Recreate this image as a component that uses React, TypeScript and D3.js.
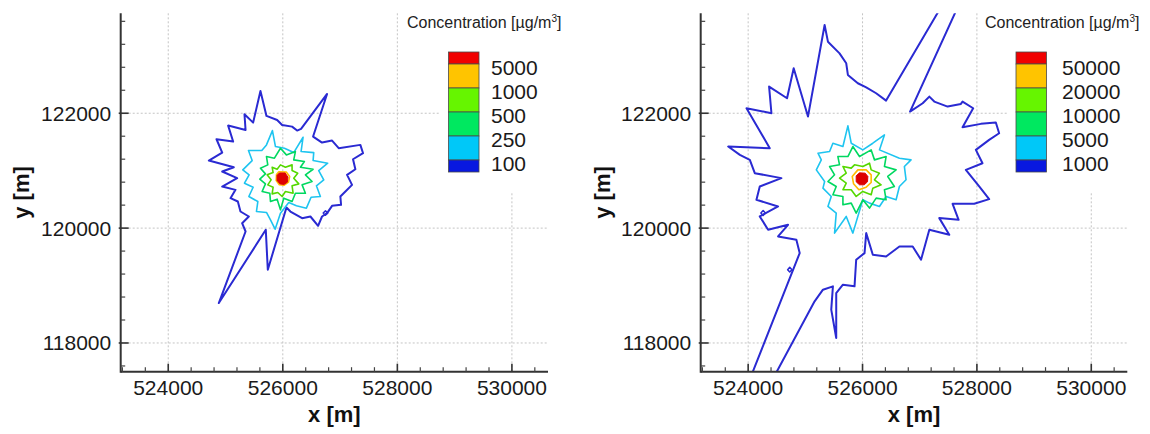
import React from 'react';
import * as d3 from 'd3';

type Pt = [number, number];

const X_DOMAIN: [number, number] = [523170, 530630];
const Y_DOMAIN: [number, number] = [117500, 123740];
const X_TICKS = [524000, 526000, 528000, 530000];
const Y_TICKS = [118000, 120000, 122000];
const MINOR_STEP = 400;

const LEVELS_LEFT = ['5000', '1000', '500', '250', '100'];
const LEVELS_RIGHT = ['50000', '20000', '10000', '5000', '1000'];
const LEGEND_COLORS = ['#f00000', '#ffc400', '#66f500', '#00e860', '#00c8f8', '#0818e0'];
const LINE_COLORS = { blue: '#2a2ad2', cyan: '#1ec4f0', green: '#00d860', lime: '#55d800', orange: '#ffbb00', red: '#dd0000' };

// ---- Left panel contours (metres) ----
const leftOuter: Pt[] = [
  [525610, 122388], [525715, 121953], [525901, 121883], [525988, 121796], [526162, 121767],
  [526250, 121698], [526319, 121727], [526773, 122336], [526529, 121594], [526685, 121489],
  [526860, 121524], [526976, 121391], [527354, 121449], [527401, 121304], [527226, 121199],
  [527267, 121025], [527122, 120927], [527209, 120753], [527093, 120637], [527005, 120550],
  [527017, 120405], [526860, 120388], [526773, 120260], [526685, 120202], [526616, 120040],
  [526482, 120202], [526337, 120173], [526133, 120289], [526064, 120359], [525738, 119275],
  [525703, 119970], [524883, 118695], [525350, 119941], [525290, 120086], [525407, 120202],
  [525261, 120289], [525215, 120463], [525087, 120521], [525174, 120666], [524942, 120724],
  [525203, 120869], [524942, 120985], [525145, 121060], [524709, 121176], [524942, 121315],
  [524843, 121547], [525133, 121507], [525046, 121785], [525350, 121709], [525331, 121982],
  [525482, 121837],
];
const leftLoop: Pt[] = [[526705, 120262], [526745, 120300], [526785, 120262], [526745, 120225]];
const leftCyan: Pt[] = [
  [525819, 121698], [525872, 121420], [526029, 121391], [526191, 121315], [526354, 121582],
  [526319, 121333], [526540, 121315], [526529, 121176], [526784, 121130], [526627, 121002],
  [526715, 120840], [526587, 120736], [526656, 120550], [526494, 120538], [526412, 120347],
  [526238, 120388], [526104, 120446], [525959, 120260], [525866, 119982], [525785, 120144],
  [525715, 120272], [525540, 120289], [525564, 120463], [525407, 120550], [525482, 120712],
  [525331, 120782], [525412, 120927], [525302, 121014], [525465, 121176], [525401, 121350],
  [525633, 121350], [525715, 121449],
];
const leftGreen: Pt[] = [
  [525959, 121391], [526063, 121275], [526220, 121333], [526191, 121188], [526377, 121159],
  [526308, 121060], [526529, 121025], [526395, 120927], [526511, 120811], [526337, 120753],
  [526395, 120608], [526220, 120608], [526162, 120463], [526017, 120521], [525959, 120318],
  [525901, 120504], [525785, 120463], [525773, 120608], [525639, 120637], [525697, 120770],
  [525598, 120852], [525697, 120944], [525610, 121043], [525738, 121101], [525715, 121246],
  [525854, 121217],
];
const leftLime: Pt[] = [
  [525959, 121101], [526046, 121060], [526162, 121101], [526162, 121002], [526261, 120956],
  [526191, 120869], [526279, 120770], [526162, 120736], [526180, 120608], [526046, 120637],
  [525988, 120550], [525912, 120620], [525814, 120596], [525831, 120712], [525738, 120753],
  [525796, 120840], [525726, 120927], [525831, 120967], [525814, 121060], [525901, 121025],
];
const leftOrange: Pt[] = [
  [525930, 120980], [526060, 120975], [526120, 120900], [526100, 120800], [526020, 120745],
  [525940, 120755], [525885, 120830], [525890, 120935],
];
const leftRed: Pt[] = [
  [525940, 120960], [526040, 120960], [526090, 120890], [526080, 120800], [526020, 120760],
  [525950, 120770], [525900, 120830], [525900, 120920],
];

// ---- Right panel contours (metres) ----
const rightOuter: Pt[] = [
  [525337, 123536], [525395, 123246], [525598, 123043], [525715, 122870], [525744, 122667],
  [525918, 122522], [526064, 122452], [526238, 122348], [526412, 122220], [527616, 124261],
  [527854, 124261], [526831, 122029], [527052, 122174], [527168, 122290], [527255, 122203],
  [527488, 122116], [527720, 122162], [527749, 122203], [527935, 122087], [527749, 121757],
  [528069, 121815], [528331, 121838], [528389, 121652], [528214, 121536], [527982, 121362],
  [528098, 121130], [527807, 121014], [528040, 120725], [528214, 120504], [527953, 120423],
  [527575, 120423], [527680, 120145], [527342, 120174], [527517, 119884], [527168, 119971],
  [527023, 119449], [526877, 119681], [526645, 119681], [526412, 119507], [526180, 119536],
  [526064, 119913], [526035, 119565], [525889, 119449], [525860, 118986], [525657, 119015],
  [525540, 118870], [525540, 118087], [525453, 118580], [525482, 118986], [525308, 118928],
  [525162, 118725], [524238, 117015], [523889, 117015], [524901, 119565], [524843, 119797],
  [524523, 119855], [524697, 120058], [524349, 119971], [524203, 120203], [524523, 120377],
  [524145, 120493], [524203, 120725], [524581, 120870], [524116, 120957], [524029, 121188],
  [523855, 121275], [523651, 121420], [524378, 121391], [523971, 122087], [524407, 122000],
  [524366, 122464], [524680, 122261], [524796, 122783], [525046, 121942],
];
const rightLoop1: Pt[] = [[524222, 120262], [524262, 120305], [524302, 120262], [524262, 120220]];
const rightLoop2: Pt[] = [[524690, 119276], [524727, 119318], [524765, 119276], [524727, 119236]];
const rightCyan: Pt[] = [
  [525744, 121780], [525802, 121478], [526005, 121362], [526180, 121478], [526383, 121623],
  [526296, 121362], [526645, 121217], [526848, 121188], [526732, 121072], [526761, 120841],
  [526645, 120725], [526587, 120493], [526412, 120551], [526296, 120377], [526122, 120435],
  [526005, 120493], [525831, 119913], [525715, 120203], [525511, 119913], [525540, 120261],
  [525395, 120377], [525453, 120551], [525308, 120696], [525337, 120812], [525192, 121014],
  [525279, 121188], [525221, 121304], [525424, 121333], [525482, 121478], [525657, 121420],
];
const rightGreen: Pt[] = [
  [525831, 121420], [525947, 121246], [526151, 121362], [526209, 121188], [526412, 121246],
  [526383, 121072], [526587, 121014], [526441, 120899], [526557, 120725], [526383, 120667],
  [526412, 120493], [526238, 120522], [526122, 120348], [526005, 120493], [525889, 120261],
  [525802, 120435], [525657, 120406], [525657, 120551], [525482, 120580], [525540, 120725],
  [525395, 120812], [525511, 120928], [525424, 121073], [525598, 121102], [525569, 121246],
  [525744, 121246],
];
const rightLime: Pt[] = [
  [525860, 121102], [526005, 121073], [526122, 121130], [526151, 121014], [526296, 120957],
  [526209, 120841], [526325, 120754], [526180, 120696], [526151, 120580], [526005, 120638],
  [525889, 120551], [525802, 120667], [525657, 120667], [525715, 120783], [525598, 120870],
  [525715, 120957], [525657, 121073], [525802, 121044],
];
const rightOrange: Pt[] = [
  [525918, 121014], [526064, 121014], [526151, 120928], [526151, 120794], [526064, 120713],
  [525936, 120667], [525843, 120771], [525820, 120899],
];
const rightRed: Pt[] = [
  [525947, 120962], [526046, 120957], [526093, 120899], [526087, 120806], [526029, 120754],
  [525947, 120754], [525889, 120806], [525889, 120910],
];

const FONT = 'Liberation Sans, Arial, Helvetica, sans-serif';
const TOP = 13.3;
const BOTTOM = 371.7;

interface Panel {
  key: string;
  x0: number;
  x1: number;
  outer: Pt[];
  loops: Pt[][];
  cyan: Pt[];
  green: Pt[];
  lime: Pt[];
  orange: Pt[];
  red: Pt[];
  labels: string[];
  titleX: number;
  boxX: number;
  labelX: number;
  maskX: number;
  yTitleX: number;
}

const panels: Panel[] = [
  {
    key: 'L', x0: 120.7, x1: 548, outer: leftOuter, loops: [leftLoop], cyan: leftCyan, green: leftGreen,
    lime: leftLime, orange: leftOrange, red: leftRed, labels: LEVELS_LEFT,
    titleX: 407, boxX: 448.5, labelX: 491, maskX: 440, yTitleX: 29,
  },
  {
    key: 'R', x0: 700.7, x1: 1127.3, outer: rightOuter, loops: [rightLoop1, rightLoop2], cyan: rightCyan,
    green: rightGreen, lime: rightLime, orange: rightOrange, red: rightRed, labels: LEVELS_RIGHT,
    titleX: 985, boxX: 1016, labelX: 1062, maskX: 1008, yTitleX: 610,
  },
];

function PanelView({ p }: { p: Panel }) {
  const xs = d3.scaleLinear().domain(X_DOMAIN).range([p.x0, p.x1]);
  const ys = d3.scaleLinear().domain(Y_DOMAIN).range([BOTTOM, TOP]);
  const line = d3.line<Pt>().x((d) => xs(d[0])).y((d) => ys(d[1])).curve(d3.curveLinearClosed);
  const xMinor = d3.range(523200, X_DOMAIN[1], MINOR_STEP).filter((v) => v % 2000 !== 0);
  const yMinor = d3.range(117600, Y_DOMAIN[1], MINOR_STEP).filter((v) => v % 2000 !== 0);
  const clipId = 'clip' + p.key;
  const bandTop = 52;
  const bandEdges = [0, 12, 36, 60, 84, 108, 120];
  const midX = (p.x0 + p.x1) / 2;
  const midY = (TOP + BOTTOM) / 2;
  return (
    <g>
      <defs>
        <clipPath id={clipId}>
          <rect x={p.x0} y={TOP} width={p.x1 - p.x0} height={BOTTOM - TOP} />
        </clipPath>
      </defs>
      {/* grid */}
      {X_TICKS.map((t) => (
        <line key={'gx' + t} x1={xs(t)} x2={xs(t)} y1={TOP} y2={BOTTOM} stroke="#c4c4c4" strokeWidth={1} strokeDasharray="2,2" />
      ))}
      {Y_TICKS.map((t) => (
        <line key={'gy' + t} x1={p.x0} x2={p.x1} y1={ys(t)} y2={ys(t)} stroke="#c4c4c4" strokeWidth={1} strokeDasharray="2,2" />
      ))}
      {/* legend mask */}
      <rect x={p.maskX} y={TOP} width={p.x1 - p.maskX + 1} height={192 - TOP} fill="#fff" />
      {/* contours */}
      <g clipPath={`url(#${clipId})`} fill="none" strokeLinejoin="round">
        <path d={line(p.outer) || ''} stroke={LINE_COLORS.blue} strokeWidth={2} />
        {p.loops.map((l, i) => (
          <path key={'loop' + i} d={line(l) || ''} stroke={LINE_COLORS.blue} strokeWidth={1.5} />
        ))}
        <path d={line(p.cyan) || ''} stroke={LINE_COLORS.cyan} strokeWidth={1.6} />
        <path d={line(p.green) || ''} stroke={LINE_COLORS.green} strokeWidth={1.6} />
        <path d={line(p.lime) || ''} stroke={LINE_COLORS.lime} strokeWidth={1.6} />
        <path d={line(p.orange) || ''} stroke={LINE_COLORS.orange} strokeWidth={1.6} />
        <path d={line(p.red) || ''} fill={LINE_COLORS.red} stroke={LINE_COLORS.red} strokeWidth={1} />
      </g>
      {/* axes */}
      <line x1={p.x0} x2={p.x1} y1={BOTTOM} y2={BOTTOM} stroke="#333" strokeWidth={2} />
      <line x1={p.x0} x2={p.x0} y1={TOP} y2={BOTTOM + 1} stroke="#333" strokeWidth={2} />
      {X_TICKS.map((t) => (
        <g key={'tx' + t}>
          <line x1={xs(t)} x2={xs(t)} y1={BOTTOM} y2={BOTTOM - 8} stroke="#333" strokeWidth={1.6} />
          <text x={xs(t)} y={395} textAnchor="middle" fontSize={21} fill="#1a1a1a" fontFamily={FONT}>
            {d3.format('d')(t)}
          </text>
        </g>
      ))}
      {xMinor.map((t) => (
        <line key={'mx' + t} x1={xs(t)} x2={xs(t)} y1={BOTTOM} y2={BOTTOM - 4.5} stroke="#444" strokeWidth={1.2} />
      ))}
      {Y_TICKS.map((t) => (
        <g key={'ty' + t}>
          <line x1={p.x0 - 2} x2={p.x0 + 8} y1={ys(t)} y2={ys(t)} stroke="#333" strokeWidth={1.6} />
          <text x={p.x0 - 9.5} y={ys(t) + 7.5} textAnchor="end" fontSize={21} fill="#1a1a1a" fontFamily={FONT}>
            {d3.format('d')(t)}
          </text>
        </g>
      ))}
      {yMinor.map((t) => (
        <line key={'my' + t} x1={p.x0} x2={p.x0 + 4.5} y1={ys(t)} y2={ys(t)} stroke="#444" strokeWidth={1.2} />
      ))}
      {/* axis titles */}
      <text x={midX} y={422} textAnchor="middle" fontSize={22} fontWeight="bold" fill="#111" fontFamily={FONT}>
        x [m]
      </text>
      <text
        transform={`translate(${p.yTitleX},${midY}) rotate(-90)`}
        textAnchor="middle"
        fontSize={22}
        fontWeight="bold"
        fill="#111"
        fontFamily={FONT}
      >
        y [m]
      </text>
      {/* legend */}
      <text x={p.titleX} y={27.5} fontSize={16} fill="#222" fontFamily={FONT}>
        Concentration [µg/m<tspan dy={-6} fontSize={10}>3</tspan>
        <tspan dy={6}>]</tspan>
      </text>
      {LEGEND_COLORS.map((c, i) => (
        <rect
          key={'lb' + i}
          x={p.boxX}
          y={bandTop + bandEdges[i]}
          width={30.5}
          height={bandEdges[i + 1] - bandEdges[i]}
          fill={c}
          stroke="#4a4a4a"
          strokeWidth={0.8}
        />
      ))}
      {p.labels.map((l, i) => (
        <text key={'ll' + i} x={p.labelX} y={bandTop + bandEdges[i + 1] + 11} fontSize={21} fill="#1a1a1a" fontFamily={FONT}>
          {l}
        </text>
      ))}
    </g>
  );
}

export default function App() {
  return (
    <svg
      width={1150}
      height={434}
      viewBox="0 0 1150 434"
      style={{ position: 'absolute', left: 0, top: 0, background: '#fff' }}
    >
      <rect x={0} y={0} width={1150} height={434} fill="#fff" />
      {panels.map((p) => (
        <PanelView key={p.key} p={p} />
      ))}
    </svg>
  );
}
